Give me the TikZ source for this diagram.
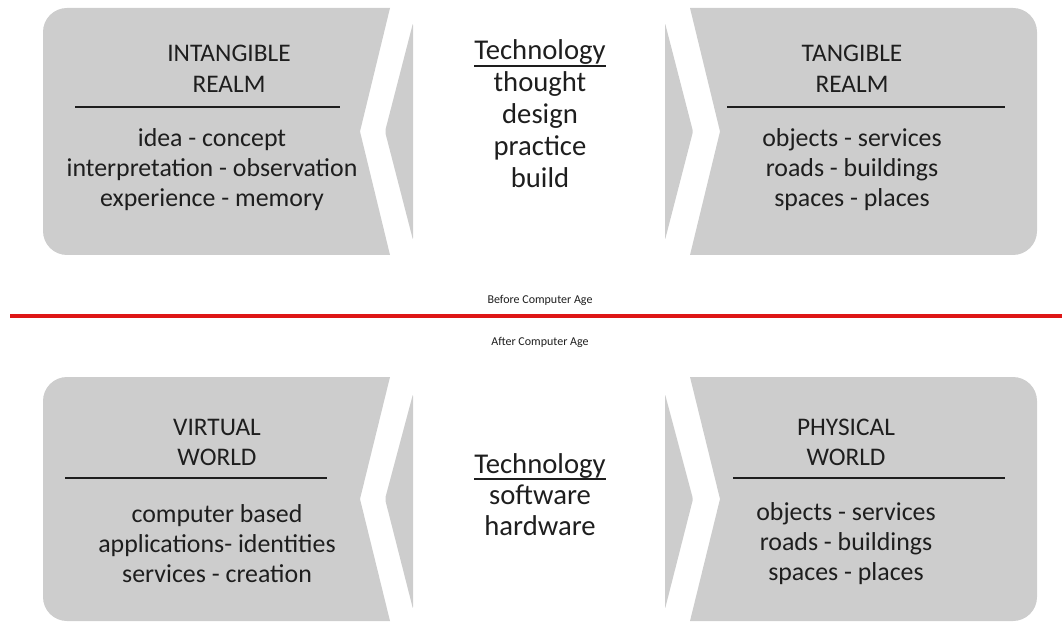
\documentclass[tikz,border=0pt]{standalone}
\usepackage{fontspec}
\setmainfont{Carlito}
\definecolor{panelgray}{RGB}{205,205,205}
\definecolor{inkgray}{RGB}{30,30,30}
\definecolor{agered}{RGB}{222,22,22}
\begin{document}
\begin{tikzpicture}[x=0.75pt,y=-0.75pt,
  panel/.style={fill=panelgray},
  sliver/.style={fill=panelgray,rounded corners=1.5pt},
  rule/.style={draw=inkgray,line width=1.6pt},
  hdr/.style={inner sep=0pt,anchor=base,text=inkgray,font=\fontsize{19pt}{22pt}\selectfont},
  body/.style={inner sep=0pt,anchor=base,text=inkgray,font=\fontsize{19.4pt}{22pt}\selectfont},
  tech/.style={inner sep=0pt,anchor=base,text=inkgray,font=\fontsize{21.5pt}{25pt}\selectfont},
  agelabel/.style={inner sep=0pt,anchor=base,text=inkgray,font=\fontsize{9pt}{11pt}\selectfont}]
\useasboundingbox (0,0) rectangle (1062,623);

% ---------- top row ----------
% left panel, notched on its right side
\fill[panel] (390,8) -- (360,131.5) -- (390,255) -- (67,255)
  .. controls (53.75,255) and (43,244.25) .. (43,231) -- (43,32)
  .. controls (43,18.75) and (53.75,8) .. (67,8) -- cycle;
\fill[sliver] (413,23) -- (385,131.5) -- (413,240) -- cycle;
% right panel, pointed into on its left side
\fill[sliver] (665,23) -- (693,131.5) -- (665,240) -- cycle;
\fill[panel] (690,8) -- (720,131.5) -- (690,255) -- (1013,255)
  .. controls (1026.25,255) and (1037,244.25) .. (1037,231) -- (1037,32)
  .. controls (1037,18.75) and (1026.25,8) .. (1013,8) -- cycle;

\node[hdr] (ih1) at (229,62) {INTANGIBLE};
\node[hdr] (ih2) at (229,93) {REALM};
\draw[rule] (75,107) -- (340,107);
\node[body] (ib1) at (212,147) {idea - concept};
\node[body] (ib2) at (212,177) {interpretation - observation};
\node[body] (ib3) at (212,207) {experience - memory};

\node[tech] (tt0) at (540,60) {Technology};
\draw[rule,line width=1.4pt] ([yshift=-4.5pt]tt0.base west) -- ([yshift=-4.5pt]tt0.base east);
\node[tech] (tt1) at (540,92) {thought};
\node[tech] (tt2) at (540,124) {design};
\node[tech] (tt3) at (540,156) {practice};
\node[tech] (tt4) at (540,188) {build};

\node[hdr] (th1) at (852,62) {TANGIBLE};
\node[hdr] (th2) at (852,93) {REALM};
\draw[rule] (727,107) -- (1005,107);
\node[body] (tb1) at (852,147) {objects - services};
\node[body] (tb2) at (852,177) {roads - buildings};
\node[body] (tb3) at (852,207) {spaces - places};

% ---------- era divider ----------
\coordinate (divL) at (10,316);
\coordinate (divR) at (1062,316);
\draw[agered,line width=3pt] (divL) -- (divR);
\node[agelabel] (before) at (540,303) {Before Computer Age};
\node[agelabel] (after) at (540,345) {After Computer Age};

% ---------- bottom row ----------
\fill[panel] (390,377) -- (360,499) -- (390,621) -- (67,621)
  .. controls (53.75,621) and (43,610.25) .. (43,597) -- (43,401)
  .. controls (43,387.75) and (53.75,377) .. (67,377) -- cycle;
\fill[sliver] (413,394) -- (385,499) -- (413,609) -- cycle;
\fill[sliver] (665,394) -- (693,499) -- (665,609) -- cycle;
\fill[panel] (690,377) -- (720,499) -- (690,621) -- (1013,621)
  .. controls (1026.25,621) and (1037,610.25) .. (1037,597) -- (1037,401)
  .. controls (1037,387.75) and (1026.25,377) .. (1013,377) -- cycle;

\node[hdr] (vh1) at (217,435) {VIRTUAL};
\node[hdr] (vh2) at (217,465) {WORLD};
\draw[rule] (65,478) -- (327,478);
\node[body] (vb1) at (217,522) {computer based};
\node[body] (vb2) at (217,552) {applications- identities};
\node[body] (vb3) at (217,582) {services - creation};

\node[tech] (bt0) at (540,473) {Technology};
\draw[rule,line width=1.4pt] ([yshift=-4.5pt]bt0.base west) -- ([yshift=-4.5pt]bt0.base east);
\node[tech] (bt1) at (540,504) {software};
\node[tech] (bt2) at (540,535) {hardware};

\node[hdr] (ph1) at (846,435) {PHYSICAL};
\node[hdr] (ph2) at (846,465) {WORLD};
\draw[rule] (733,478) -- (1005,478);
\node[body] (pb1) at (846,520) {objects - services};
\node[body] (pb2) at (846,550) {roads - buildings};
\node[body] (pb3) at (846,580) {spaces - places};
\end{tikzpicture}
\end{document}
